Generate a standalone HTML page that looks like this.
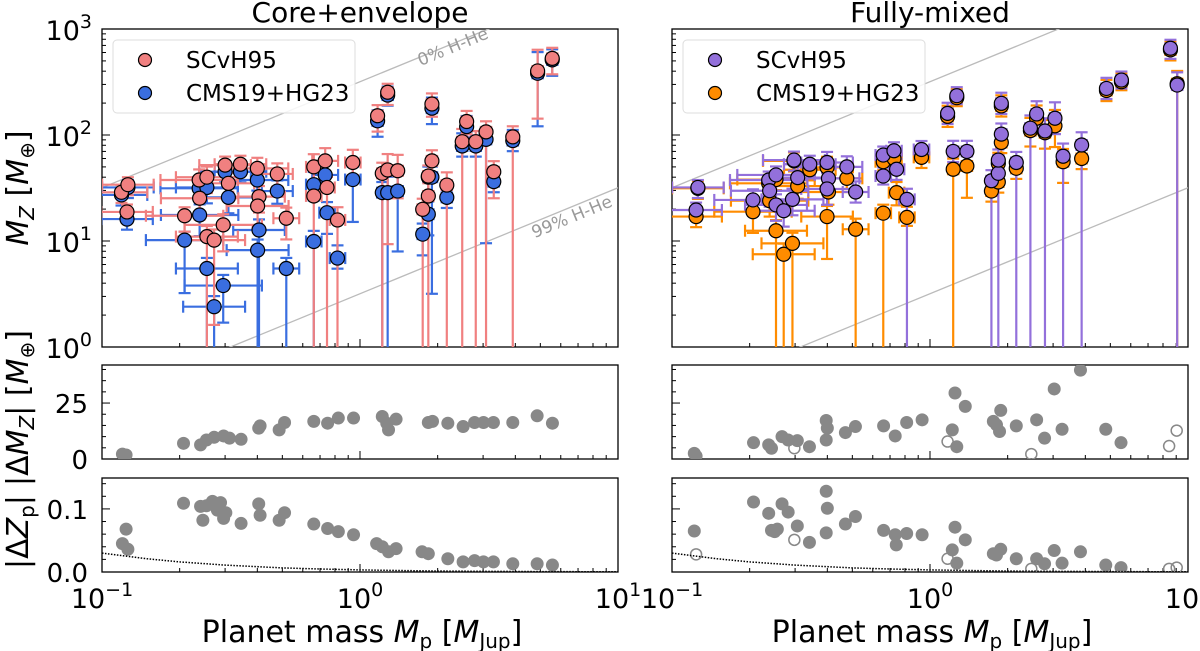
<!DOCTYPE html>
<html><head><meta charset="utf-8">
<style>
html,body{margin:0;padding:0;background:#fff;}
svg{display:block;font-family:"DejaVu Sans","Liberation Sans",sans-serif;}
</style></head>
<body>
<svg id="fig" width="1200" height="651" viewBox="0 0 1200 651" xmlns="http://www.w3.org/2000/svg"></svg>
<script>
// ---------- DATA ----------
const leftMass=[.119,.126,.125,.209,.238,.239,.255,.255,.272,.295,.30,.309,.344,.40,.406,.401,.478,.518,.662,.662,.733,.745,.818,.938,1.17,1.22,1.28,1.28,1.40,1.75,1.84,1.84,1.90,1.90,2.17,2.49,2.59,2.81,3.08,3.30,3.91,4.88,5.56];
const leftRed=[28.8,34,18.8,17.3,37.6,25.3,40,11,10.2,14.2,52,35,53,48.4,26.2,21.4,42.9,16.4,50,26.6,57,32,15.8,55,152,43.5,253,46.8,46,19.9,41,26.6,196,57,33.7,86.5,134,86.5,107,45,96,402,528];
const leftBlue=[27.2,32,16.1,10.2,31.4,17.6,32,5.5,2.4,3.8,45,25.8,45,37.6,12.7,8.2,29.6,5.5,34,9.9,42,18.5,6.9,38,136,28.6,238,28.6,29.6,11.6,40,17.9,179,40,25.8,78.7,120,78.7,91,36.3,88.6,382,511];
const leftRedLo=[.1,.1,.1,.15,.15,.2,.15,9,.8,.25,.1,.15,.1,.1,.15,.2,.12,.2,.15,9,.12,9,9,.12,.15,9,.12,.7,.26,9,.15,9,.12,.12,9,9,.12,9,9,.25,9,.45,.15];
const leftBlueLo=[.1,.1,.1,.5,.12,.2,.15,9,9,.35,.1,.15,.1,.1,9,9,.12,9,.15,9,.15,.2,.1,.4,.15,9,.1,9,.57,.2,.15,.2,.15,1.1,.1,.1,.1,.1,.98,.1,.1,.5,.15];
const leftXErr=[.1,.1,.1,.15,.15,.15,.12,.12,.12,.15,.1,.1,.1,.12,.1,.12,.06,.05,.03,.03,.05,.03,.03,.03,.02,.02,.02,.02,.02,.02,.02,.02,.02,.02,.02,.02,.02,.02,.02,.02,.02,.02,.02];
const leftHi=[.07,.07,.07,.08,.1,.1,.1,.1,.1,.1,.08,.1,.08,.1,.1,.1,.1,.1,.12,.1,.12,.1,.12,.12,.1,.1,.08,.15,.15,.1,.1,.12,.1,.1,.12,.12,.1,.1,.1,.1,.1,.2,.1];

const rightMass=[.126,.124,.206,.237,.239,.253,.253,.271,.293,.297,.307,.342,.399,.404,.399,.476,.515,.659,.659,.725,.742,.814,.927,1.17,1.27,1.23,1.39,1.73,1.84,1.84,1.89,1.89,2.16,2.45,2.59,2.79,3.05,3.28,3.87,4.83,5.52,8.55,9.08];
const rightPurple=[32,19.6,24.4,37.6,29.8,42,21.9,19.3,24.7,58,39.6,53,55,39,31,50,29,64.7,41,71,47.5,24.7,73,160,235,70,70,37,43.5,58,199,102,55,116,158,109,144,63,80.5,275,330,658,296];
const rightOrange=[31.4,17,18.9,35,24,38,12.5,7.5,9.5,57,33,47,49.5,29,17,39,12.9,56,18.3,60,28.6,16.7,61.5,150,225,47.5,51,29.6,36,54,188,85,48.5,110,144,105,122,56,60,263,318,636,305];
const rightPurpleLo=[.1,.1,.15,.15,.15,.15,.15,.15,.15,.1,.12,.1,.1,.12,.15,.1,.1,.08,.08,.08,.1,9,.08,.1,.08,.1,.1,9,9,.1,.1,.1,9,9,.15,9,.15,9,9,.1,.08,.1,9];
const rightOrangeLo=[.1,.1,.2,.15,.15,.1,9,9,9,.1,.12,.1,.1,.12,.4,.1,9,.08,9,.1,.12,.08,.1,.1,.08,9,.3,.1,.1,.1,.1,.1,.1,.15,.15,.15,.2,.2,.1,.1,.08,.1,9];
const rightXErr=[.1,.1,.15,.15,.15,.15,.12,.12,.12,.12,.1,.1,.1,.12,.1,.06,.05,.03,.03,.03,.03,.03,.03,.02,.02,.02,.02,.02,.02,.02,.02,.02,.02,.02,.02,.02,.02,.02,.02,.02,.02,.02,.02];
const rightHi=[.07,.07,.1,.08,.1,.08,.1,.1,.1,.08,.1,.08,.1,.1,.1,.1,.1,.08,.08,.08,.1,.1,.08,.1,.08,.1,.1,.1,.1,.1,.1,.1,.1,.12,.12,.12,.15,.12,.12,.1,.08,.08,.12];

const dMzLeftMass=[.120,.124,.207,.241,.254,.272,.296,.312,.346,.405,.41,.486,.510,.662,.749,.824,.944,1.22,1.27,1.29,1.38,1.84,1.91,2.19,2.51,2.78,3.01,3.29,3.91,4.86,5.57];
const dMzLeftVal=[2.2,1.8,7.0,6.3,8.5,9.7,10.3,9.3,8.8,13.8,14.8,13.0,16.3,16.8,16.0,18.3,18.3,19.0,16.0,13.0,17.8,16.3,16.8,16.0,14.5,16.3,16.3,16.3,16.3,19.3,16.0];
const dMzRightMass=[.122,.124,.207,.237,.243,.267,.282,.298,.306,.341,.396,.396,.40,.47,.514,.661,.733,.812,.932,1.17,1.22,1.25,1.27,1.37,1.76,1.81,1.88,1.86,2.16,2.47,2.59,2.78,3.03,3.25,3.83,4.80,5.50,8.45,9.04];
const dMzRightVal=[2.5,1.3,7.3,6.3,4.8,10.0,8.5,4.8,8.2,5.5,8.5,17.2,13.8,11.8,14.5,14.8,10.3,16.3,17.5,7.8,13.0,29.5,5.5,23.5,16.8,15.3,21.7,12.3,14.8,2.2,17.5,9.3,31.3,13.3,39.7,13.3,7.3,5.8,12.7];
const dMzRightOpen=[0,0,0,0,0,0,0,1,0,0,0,0,0,0,0,0,0,0,0,1,0,0,0,0,0,0,0,0,0,1,0,0,0,0,0,0,0,1,1];

const dZLeftMass=[.120,.124,.126,.207,.241,.246,.254,.268,.280,.288,.296,.302,.346,.405,.41,.486,.510,.662,.749,.824,.944,1.16,1.22,1.29,1.38,1.74,1.84,2.19,2.51,2.78,3.01,3.29,3.91,4.86,5.57];
const dZLeftVal=[.045,.068,.036,.109,.104,.082,.105,.112,.098,.110,.085,.094,.077,.108,.090,.082,.094,.076,.069,.064,.059,.045,.040,.032,.037,.032,.029,.021,.016,.018,.016,.016,.013,.013,.011];
const dZRightMass=[.122,.124,.207,.237,.243,.25,.256,.267,.282,.298,.306,.341,.396,.40,.396,.47,.514,.661,.733,.74,.812,.932,1.17,1.22,1.25,1.27,1.37,1.76,1.81,1.88,2.16,2.47,2.59,2.78,3.03,3.25,3.83,4.80,5.50,8.45,9.04];
const dZRightVal=[.065,.028,.111,.093,.066,.064,.068,.108,.095,.051,.073,.047,.062,.101,.128,.076,.088,.066,.059,.043,.061,.059,.021,.035,.071,.014,.051,.029,.027,.036,.021,.005,.021,.013,.034,.014,.032,.011,.007,.005,.007];
const dZRightOpen=[0,1,0,0,0,0,0,0,0,1,0,0,0,0,0,0,0,0,0,0,0,0,1,0,0,0,0,0,0,0,0,1,0,0,0,0,0,0,0,1,1];

const curveMass=[0.1,0.15,0.2,0.3,0.5,0.7,1,1.5,2,3,5,10];
const curveVal=[0.030,0.021,0.016,0.011,0.0065,0.0047,0.0033,0.0022,0.0016,0.0011,0.0007,0.0003];

const xTickLabels=["−1","0","1"];

// ---------- AXES ----------
const svg=document.getElementById('fig');
const NS='http://www.w3.org/2000/svg';
const L0=102,R0=672,W=516,DEC=258;
const TOP_Y0=29,TOP_Y1=347,MID_Y0=365,MID_Y1=459,BOT_Y0=478,BOT_Y1=572;
function xAx(ox){return m=>ox+(Math.log10(m)+1)*DEC;}
const xL=xAx(L0),xR=xAx(R0);
function yTop(v){return TOP_Y1-Math.log10(v)*106;}
function yMid(v){return MID_Y1-v*(94/42);}
function yBot(v){return BOT_Y1-v*(94/0.149);}
function mk(tag,at,parent){const e=document.createElementNS(NS,tag);for(const k in at)e.setAttribute(k,at[k]);(parent||svg).appendChild(e);return e;}

const defs=mk('defs',{});
[['cTL',L0,TOP_Y0,TOP_Y1],['cTR',R0,TOP_Y0,TOP_Y1],['cML',L0,MID_Y0,MID_Y1],['cMR',R0,MID_Y0,MID_Y1],['cBL',L0,BOT_Y0,BOT_Y1],['cBR',R0,BOT_Y0,BOT_Y1]].forEach(c=>{
  const cp=mk('clipPath',{id:c[0]},defs);mk('rect',{x:c[1],y:c[2],width:W,height:c[3]-c[2]},cp);
});

function frame(ox,y0,y1,name){
  const r=mk('rect',{x:ox,y:y0,width:W,height:y1-y0,fill:'none',stroke:'#000','stroke-width':1.3});
  
  
  const g=mk('g',{stroke:'#000','stroke-width':1});
  for(let d=-1;d<=1;d++){
    const x=ox+(d+1)*DEC;
    if(d>-1&&d<1) mk('line',{x1:x,y1:y1,x2:x,y2:y1-8},g);
    if(d<1) for(let k=2;k<=9;k++){const xx=ox+(d+1+Math.log10(k))*DEC;mk('line',{x1:xx,y1:y1,x2:xx,y2:y1-4},g);}
  }
  return g;
}
function xTickLabelsDraw(ox){
  for(let i=0;i<3;i++){
    const t=mk('text',{x:ox+i*DEC,y:608,'text-anchor':'middle','font-size':27});
    
    
    t.appendChild(document.createTextNode('10'));
    const s=mk('tspan',{dy:-12,'font-size':19},t);s.textContent=xTickLabels[i];
  }
}
function logYTicks(ox,g,labels){
  for(let p=0;p<=3;p++){
    const y=yTop(Math.pow(10,p));
    mk('line',{x1:ox,y1:y,x2:ox+8,y2:y},g);
    if(p<3) for(let k=2;k<=9;k++){const yy=yTop(k*Math.pow(10,p));mk('line',{x1:ox,y1:yy,x2:ox+4,y2:yy},g);}
    if(labels){
      const t=mk('text',{x:ox-10,y:y+11,'text-anchor':'end','font-size':27});
      
      
      t.appendChild(document.createTextNode('10'));
      const s=mk('tspan',{dy:-12,'font-size':19},t);s.textContent=String(p);
    }
  }
}
function linYTicks(ox,g,yf,minor,max,majors,labels){
  for(let v=0;v<=max+1e-9;v+=minor){
    const y=yf(v);const isMaj=majors.some(m=>Math.abs(m-v)<1e-9);
    mk('line',{x1:ox,y1:y,x2:ox+(isMaj?8:4),y2:y},g);
  }
  if(labels) majors.forEach((m,i)=>{
    const t=mk('text',{x:ox-14,y:yf(m)+10,'text-anchor':'end','font-size':26});
    
    
    t.textContent=labels[i];
  });
}

[[L0,'core-envelope-top-axes',true],[R0,'fully-mixed-top-axes',false]].forEach(a=>{
  const g=frame(a[0],TOP_Y0,TOP_Y1,a[1]);logYTicks(a[0],g,a[2]);
});
[[L0,'core-envelope-dmz-axes',true],[R0,'fully-mixed-dmz-axes',false]].forEach(a=>{
  const g=frame(a[0],MID_Y0,MID_Y1,a[1]);linYTicks(a[0],g,yMid,5,40,[0,25],a[2]?['0','25']:null);
});
[[L0,'core-envelope-dz-axes',true],[R0,'fully-mixed-dz-axes',false]].forEach(a=>{
  const g=frame(a[0],BOT_Y0,BOT_Y1,a[1]);linYTicks(a[0],g,yBot,0.02,0.14,[0,0.1],a[2]?['0.0','0.1']:null);
});
xTickLabelsDraw(L0);xTickLabelsDraw(R0);

function txt(x,y,s,size,name,extra){const t=mk('text',Object.assign({x:x,y:y,'text-anchor':'middle','font-size':size},extra||{}));t.innerHTML=s;return t;}
txt(360,22,'Core+envelope',28,'left-title');
txt(930,22,'Fully-mixed',28,'right-title');
const xt='Planet mass <tspan font-style="italic">M</tspan><tspan font-size="20" dy="6">p</tspan><tspan dy="-6"> [</tspan><tspan font-style="italic">M</tspan><tspan font-size="20" dy="6">Jup</tspan><tspan dy="-6">]</tspan>';
txt(362,642,xt,30,'x-axis-title-left');
txt(932,642,xt,30,'x-axis-title-right');
txt(0,0,'<tspan font-style="italic">M</tspan><tspan font-size="20" font-style="italic" dy="6">Z</tspan><tspan dy="-6"> [</tspan><tspan font-style="italic">M</tspan><tspan font-size="20" dy="6">⊕</tspan><tspan dy="-6">]</tspan>',30,'y-axis-title-mz',{transform:'translate(28,188) rotate(-90)'});
txt(0,0,'|Δ<tspan font-style="italic">M</tspan><tspan font-size="20" font-style="italic" dy="6">Z</tspan><tspan dy="-6">| [</tspan><tspan font-style="italic">M</tspan><tspan font-size="20" dy="6">⊕</tspan><tspan dy="-6">]</tspan>',30,'y-axis-title-dmz',{transform:'translate(28,408) rotate(-90)'});
txt(0,0,'|Δ<tspan font-style="italic">Z</tspan><tspan font-size="20" dy="6">p</tspan><tspan dy="-6">|</tspan>',30,'y-axis-title-dz',{transform:'translate(28,532) rotate(-90)'});

const diagFactors=[318,3.18];
[[L0,xL,'cTL'],[R0,xR,'cTR']].forEach(p=>{
  const g=mk('g',{'clip-path':'url(#'+p[2]+')'});
  diagFactors.forEach((f,i)=>{
    const l=mk('line',{x1:p[1](0.1),y1:yTop(0.1*f),x2:p[1](10),y2:yTop(10*f),stroke:'#bbb','stroke-width':1.3},g);
    
    
  });
});
const ang=-Math.atan(106/258)*180/Math.PI;
txt(0,0,'0% H-He',17,'zero-hhe-label',{fill:'#999',transform:'translate(455,52) rotate('+ang+')'});
txt(0,0,'99% H-He',17,'99-hhe-label',{fill:'#999',transform:'translate(574,222) rotate('+ang+')'});

function series(xf,clip,mass,vals,lo,hi,xe,color,name){
  const g=mk('g',{'clip-path':'url(#'+clip+')'});
  
  
  for(let i=0;i<mass.length;i++){
    const x=xf(mass[i]),y=yTop(vals[i]);
    const yl=lo[i]>=9?TOP_Y1+5:yTop(vals[i]/Math.pow(10,lo[i]));
    const yh=yTop(vals[i]*Math.pow(10,hi[i]));
    const x1=xf(mass[i]/Math.pow(10,xe[i])),x2=xf(mass[i]*Math.pow(10,xe[i]));
    const eg=mk('g',{stroke:color,'stroke-width':2.2,fill:'none'},g);
    
    
    mk('line',{x1:x,y1:yl,x2:x,y2:yh},eg);
    mk('line',{x1:x-6,y1:yh,x2:x+6,y2:yh},eg);
    if(lo[i]<9) mk('line',{x1:x-6,y1:yl,x2:x+6,y2:yl},eg);
    mk('line',{x1:x1,y1:y,x2:x2,y2:y},eg);
    mk('line',{x1:x1,y1:y-6,x2:x1,y2:y+6},eg);
    mk('line',{x1:x2,y1:y-6,x2:x2,y2:y+6},eg);
  }
  return g;
}
function markers(g,xf,mass,vals,color){
  for(let i=0;i<mass.length;i++){
    const c=mk('circle',{cx:xf(mass[i]),cy:yTop(vals[i]),r:7,fill:color,stroke:'#000','stroke-width':1.2},g);
    
    
  }
}
series(xL,'cTL',leftMass,leftBlue,leftBlueLo,leftHi,leftXErr,'#3a6ee0','cms19-errorbars-left');
series(xL,'cTL',leftMass,leftRed,leftRedLo,leftHi,leftXErr,'#f08080','scvh95-errorbars-left');
const gLm=mk('g',{'clip-path':'url(#cTL)'});
markers(gLm,xL,leftMass,leftBlue,'#3a6ee0');markers(gLm,xL,leftMass,leftRed,'#f08080');
series(xR,'cTR',rightMass,rightOrange,rightOrangeLo,rightHi,rightXErr,'#ff8c00','cms19-errorbars-right');
series(xR,'cTR',rightMass,rightPurple,rightPurpleLo,rightHi,rightXErr,'#9370db','scvh95-errorbars-right');
const gRm=mk('g',{'clip-path':'url(#cTR)'});
markers(gRm,xR,rightMass,rightOrange,'#ff8c00');markers(gRm,xR,rightMass,rightPurple,'#9370db');

function legend(ox,c1,c2,name){
  const g=mk('g',{});
  
  
  mk('rect',{x:ox+11,y:40,width:242,height:73,rx:4,fill:'#fff','fill-opacity':0.85,stroke:'#ddd','stroke-width':1},g);
  [[c1,'SCvH95',60],[c2,'CMS19+HG23',93]].forEach(e=>{
    const c=mk('circle',{cx:ox+43,cy:e[2],r:6.5,fill:e[0],stroke:'#000','stroke-width':1.2},g);
    
    
    const t=mk('text',{x:ox+84,y:e[2]+8,'font-size':23},g);
    
    
    t.textContent=e[1];
  });
}
legend(L0,'#f08080','#3a6ee0','legend-left');
legend(R0,'#9370db','#ff8c00','legend-right');

function resid(xf,yf,clip,mass,vals,open,name){
  const g=mk('g',{'clip-path':'url(#'+clip+')'});
  
  
  for(let i=0;i<mass.length;i++){
    const o=open&&open[i];
    const c=mk('circle',{cx:xf(mass[i]),cy:yf(vals[i]),r:o?5.5:6.5,fill:o?'none':'#888',stroke:o?'#888':'none','stroke-width':1.5},g);
    
    
  }
}
resid(xL,yMid,'cML',dMzLeftMass,dMzLeftVal,null,'dmz-points-left');
resid(xR,yMid,'cMR',dMzRightMass,dMzRightVal,dMzRightOpen,'dmz-points-right');
resid(xL,yBot,'cBL',dZLeftMass,dZLeftVal,null,'dz-points-left');
resid(xR,yBot,'cBR',dZRightMass,dZRightVal,dZRightOpen,'dz-points-right');
[[xL,'cBL','dz-limit-curve-left'],[xR,'cBR','dz-limit-curve-right']].forEach(p=>{
  const d=curveMass.map((m,i)=>(i?'L':'M')+p[0](m).toFixed(1)+','+yBot(curveVal[i]).toFixed(1)).join(' ');
  const path=mk('path',{d:d,fill:'none',stroke:'#000','stroke-width':1.5,'stroke-dasharray':'1.5,1.5','clip-path':'url(#'+p[1]+')'});
  
  
});
</script>
</body></html>
